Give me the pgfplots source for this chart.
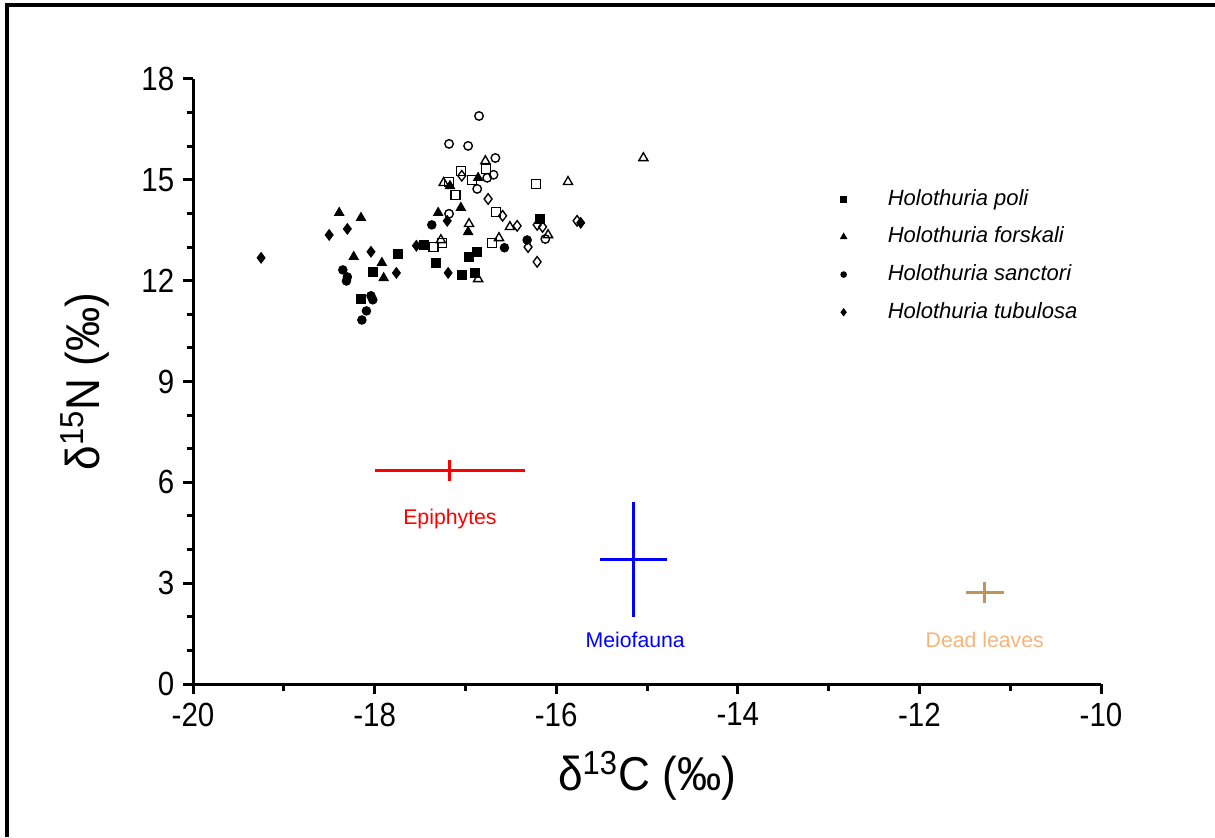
\documentclass[border=0pt]{standalone}
\usepackage{fontspec}
\setmainfont{Liberation Sans}
\newfontfamily\narrowsans[FakeStretch=0.88]{Liberation Sans}
\newfontfamily\labelsans[FakeStretch=0.93]{Liberation Sans}
\usepackage{pgfplots}
\pgfplotsset{compat=1.18}
\definecolor{epiRed}{HTML}{FF0000}
\definecolor{meioBlue}{HTML}{0000FF}
\definecolor{leafTan}{HTML}{C0955A}
\definecolor{leafLabel}{HTML}{F5B57A}

\begin{document}
\begin{tikzpicture}
\useasboundingbox (0,0) rectangle (486pt,334.8pt);
% frame (left and top edges only)
\draw[line width=1.6pt] (2.8pt,0pt) -- (2.8pt,332.8pt) -- (486pt,332.8pt);
\begin{axis}[
  at={(77.2pt,61.2pt)}, anchor=south west,
  scale only axis, width=363.2pt, height=242pt,
  xmin=-20, xmax=-10, ymin=0, ymax=18,
  axis x line=bottom, axis y line=left,
  axis line style={-, line width=1.2pt},
  xtick={-20,-18,...,-10}, minor x tick num=1,
  ytick={0,3,...,18}, minor y tick num=2,
  tick align=outside,
  major tick length=4pt, minor tick length=2.6pt,
  every tick/.style={black, line width=1.2pt},
  /pgf/number format/assume math mode=true,
  ticklabel style={font=\narrowsans\fontsize{13.4}{15}\selectfont},
  xlabel={δ\textsuperscript{13}C (‰)},
  ylabel={δ\textsuperscript{15}N (‰)},
  label style={font=\labelsans\fontsize{19}{21}\selectfont},
  xlabel style={at={(axis description cs:0.5,-0.152)}, anchor=center},
  ylabel style={at={(axis description cs:-0.119,0.5)}, anchor=center, rotate=0},
  clip=false,
  legend style={draw=none, fill=none, at={(0.696,0.835)}, anchor=north west,
    font=\itshape\fontsize{8.8}{10}\selectfont, row sep=3.2pt},
  legend cell align=left,
  legend image code/.code={%
    \path[draw=none, fill=none] (0cm,0cm) -- (0.7cm,0cm);
    \draw[only marks, every mark/.append style={scale=0.65}]
      plot coordinates {(0.15cm,0cm)};},
]
% filled markers
\addplot[only marks, mark=square*, mark size=1.8pt, black] coordinates {
(-18.02,12.26) (-18.15,11.46) (-17.74,12.80) (-17.46,13.07) (-17.32,12.53)
(-17.04,12.17) (-16.89,12.23) (-16.96,12.71) (-16.87,12.86) (-16.18,13.84)};
\addlegendentry{Holothuria poli}
\addplot[only marks, mark=triangle*, mark size=2.1pt, black] coordinates {
(-18.39,14.02) (-18.15,13.87) (-18.23,12.71) (-17.92,12.53) (-17.90,12.08)
(-17.30,14.02) (-17.17,14.82) (-16.86,15.06) (-17.05,14.17) (-16.97,13.45)};
\addlegendentry{Holothuria forskali}
\addplot[only marks, mark=*, mark size=1.7pt, black] coordinates {
(-18.35,12.32) (-18.30,12.11) (-18.31,11.99) (-18.04,11.55) (-18.02,11.43)
(-18.09,11.10) (-18.14,10.83) (-17.37,13.66) (-16.57,12.98) (-16.32,13.21)};
\addlegendentry{Holothuria sanctori}
\addplot[only marks, mark=diamond*, mark size=2.1pt, black] coordinates {
(-19.25,12.68) (-18.30,13.54) (-18.50,13.36) (-18.04,12.86) (-17.76,12.23)
(-17.54,13.04) (-17.20,13.78) (-17.19,12.23) (-15.73,13.72)};
\addlegendentry{Holothuria tubulosa}
% open markers
\addplot[only marks, mark=square, mark size=1.8pt, black, line width=0.55pt, forget plot] coordinates {
(-17.35,13.00) (-17.26,13.12) (-17.18,14.94) (-17.05,15.27) (-16.77,15.33)
(-16.93,15.00) (-17.11,14.55) (-16.66,14.05) (-16.71,13.12) (-16.22,14.88)};
\addplot[only marks, mark=triangle, mark size=2.1pt, black, line width=0.55pt, forget plot] coordinates {
(-17.27,13.21) (-17.24,14.91) (-16.78,15.56) (-16.96,13.69) (-16.51,13.60)
(-16.09,13.36) (-16.63,13.27) (-16.86,12.05) (-15.87,14.94) (-15.04,15.65)};
\addplot[only marks, mark=o, mark size=1.7pt, black, line width=0.55pt, forget plot] coordinates {
(-17.18,16.07) (-16.85,16.90) (-16.97,16.01) (-16.67,15.65) (-16.76,15.06)
(-16.69,15.15) (-16.87,14.73) (-17.18,13.99) (-16.12,13.24)};
\addplot[only marks, mark=diamond, mark size=2.1pt, black, line width=0.55pt, forget plot] coordinates {
(-17.04,15.12) (-16.75,14.43) (-16.59,13.93) (-16.43,13.63) (-16.21,13.66)
(-16.15,13.60) (-15.77,13.78) (-16.31,13.00) (-16.21,12.56)};
% food sources with error bars
\addplot[epiRed, mark=none, forget plot,
  error bars/.cd, x dir=both, y dir=both, x explicit, y explicit, error mark=none,
  error bar style={line width=1.2pt}]
  coordinates {(-17.17,6.36) +- (0.83,0.31)};
\addplot[meioBlue, mark=none, forget plot,
  error bars/.cd, x dir=both, y dir=both, x explicit, y explicit, error mark=none,
  error bar style={line width=1.2pt}]
  coordinates {(-15.15,3.70) +- (0.37,1.72)};
\addplot[leafTan, mark=none, forget plot,
  error bars/.cd, x dir=both, y dir=both, x explicit, y explicit, error mark=none,
  error bar style={line width=1.2pt}]
  coordinates {(-11.28,2.73) +- (0.21,0.31)};
\node[epiRed, font=\fontsize{8.5}{10}\selectfont] at (axis cs:-17.17,4.91) {Epiphytes};
\node[meioBlue, font=\fontsize{8.5}{10}\selectfont] at (axis cs:-15.13,1.31) {Meiofauna};
\node[leafLabel, font=\fontsize{8.5}{10}\selectfont] at (axis cs:-11.28,1.31) {Dead leaves};
\end{axis}
\end{tikzpicture}
\end{document}
